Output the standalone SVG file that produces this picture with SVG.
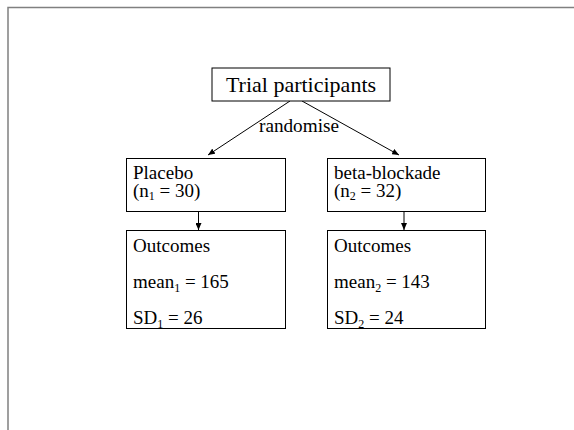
<svg xmlns="http://www.w3.org/2000/svg" width="574" height="430" viewBox="0 0 574 430">
<style>
.box{fill:#fff;stroke:#000;stroke-width:1}
.t{font-family:'Liberation Serif','Times New Roman','DejaVu Serif',serif;fill:#000;font-size:19px}
.sub{font-size:12px}
.conn{stroke:#000;stroke-width:1;fill:none}
.page{stroke:#808080;stroke-width:1.5;fill:none}
</style>
<defs>
<marker id="ah" markerWidth="7" markerHeight="6" refX="7" refY="3" orient="auto" markerUnits="userSpaceOnUse">
<path d="M0,0 L7,3 L0,6 Z" fill="#000"/>
</marker>
</defs>
<rect width="574" height="430" fill="#fff"/>
<path class="page" d="M8,430 L8,7.5 L574,7.5"/>
<g id="connectors">
<line class="conn" x1="290" y1="101" x2="208" y2="155" marker-end="url(#ah)"/>
<line class="conn" x1="302" y1="101" x2="399" y2="155" marker-end="url(#ah)"/>
<line class="conn" x1="198.5" y1="211.5" x2="198.5" y2="230" marker-end="url(#ah)"/>
<line class="conn" x1="404" y1="211.5" x2="404" y2="230" marker-end="url(#ah)"/>
<text class="t" font-family="Liberation Serif, serif" x="259" y="132" textLength="80" lengthAdjust="spacingAndGlyphs" style="font-size:18px">randomise</text>
</g>
<g id="trial">
<rect class="box" x="212" y="68" width="178" height="33"/>
<text class="t" font-family="Liberation Serif, serif" x="301" y="92" text-anchor="middle" style="font-size:22px">Trial participants</text>
</g>
<g id="placebo">
<rect class="box" x="126.5" y="158.5" width="159" height="53"/>
<text class="t" font-family="Liberation Serif, serif" x="133" y="179">Placebo</text>
<text class="t" font-family="Liberation Serif, serif" x="133" y="197">(n<tspan class="sub" dy="3">1</tspan><tspan dy="-3"> = 30)</tspan></text>
</g>
<g id="beta">
<rect class="box" x="327.5" y="158.5" width="158" height="53"/>
<text class="t" font-family="Liberation Serif, serif" x="334" y="179">beta-blockade</text>
<text class="t" font-family="Liberation Serif, serif" x="334" y="197">(n<tspan class="sub" dy="3">2</tspan><tspan dy="-3"> = 32)</tspan></text>
</g>
<g id="outcomes1">
<rect class="box" x="126.5" y="230.5" width="159" height="98"/>
<text class="t" font-family="Liberation Serif, serif" x="133" y="252">Outcomes</text>
<text class="t" font-family="Liberation Serif, serif" x="133" y="288">mean<tspan class="sub" dy="4">1</tspan><tspan dy="-4"> = 165</tspan></text>
<text class="t" font-family="Liberation Serif, serif" x="133" y="324">SD<tspan class="sub" dy="4">1</tspan><tspan dy="-4"> = 26</tspan></text>
</g>
<g id="outcomes2">
<rect class="box" x="327.5" y="230.5" width="158" height="98"/>
<text class="t" font-family="Liberation Serif, serif" x="334" y="252">Outcomes</text>
<text class="t" font-family="Liberation Serif, serif" x="334" y="288">mean<tspan class="sub" dy="4">2</tspan><tspan dy="-4"> = 143</tspan></text>
<text class="t" font-family="Liberation Serif, serif" x="334" y="324">SD<tspan class="sub" dy="4">2</tspan><tspan dy="-4"> = 24</tspan></text>
</g>
</svg>
